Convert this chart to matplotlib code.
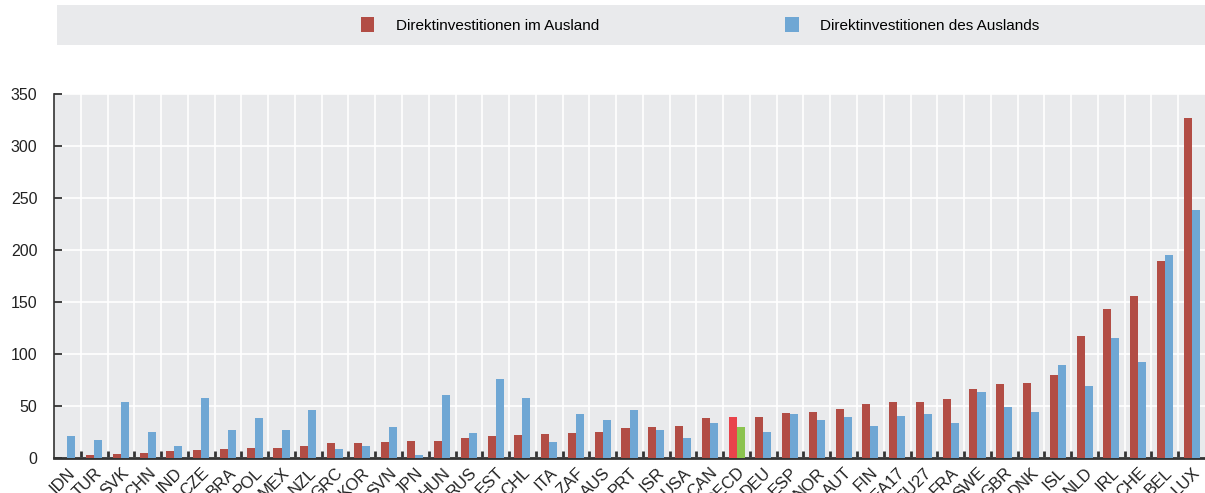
import matplotlib
matplotlib.use('Agg')
import matplotlib.pyplot as plt
from matplotlib.patches import Rectangle, Patch
import numpy as np

# Data
countries = ['IDN', 'TUR', 'SVK', 'CHN', 'IND', 'CZE', 'BRA', 'POL', 'MEX', 'NZL',
             'GRC', 'KOR', 'SVN', 'JPN', 'HUN', 'RUS', 'EST', 'CHL', 'ITA', 'ZAF',
             'AUS', 'PRT', 'ISR', 'USA', 'CAN', 'OECD', 'DEU', 'ESP', 'NOR', 'AUT',
             'FIN', 'EA17', 'EU27', 'FRA', 'SWE', 'GBR', 'DNK', 'ISL', 'NLD', 'IRL',
             'CHE', 'BEL', 'LUX']
outward = [0, 3, 4, 4.5, 7, 8, 9, 10, 10, 12,
           14, 14, 15, 16, 16.5, 19.5, 21.5, 22.5, 23, 24,
           25, 28.5, 29.5, 31, 38.5, 39, 39, 43, 44.5, 47,
           52, 54, 54, 56.5, 66.5, 71.5, 72.5, 80, 117, 143.5,
           155.5, 189, 326.5]
inward = [21.5, 17.5, 53.5, 25, 12, 58, 26.5, 38, 26.5, 46,
          9, 12, 30, 3, 60.5, 24.5, 75.5, 58, 15, 42,
          36.5, 46, 27, 19, 34, 29.5, 25, 42.5, 37, 39,
          31, 40, 42.5, 34, 63, 49.5, 44, 89.5, 69.5, 115.5,
          92, 195, 238.5]
legend_labels = ['Direktinvestitionen im Ausland', 'Direktinvestitionen des Auslands']

red = '#b24d45'
blue = '#6fa7d4'
red_hi = '#e9434b'
green_hi = '#8cc34f'

plt.rcParams['font.family'] = ['Liberation Sans', 'DejaVu Sans']

fig = plt.figure(figsize=(12.05, 4.93), dpi=100)
ax = fig.add_axes([54 / 1205, 35 / 493, 1 - 54 / 1205, 364 / 493])
ax.set_facecolor('#e9eaec')

x = np.arange(len(countries))
w = 0.3
c_out = [red_hi if c == 'OECD' else red for c in countries]
c_in = [green_hi if c == 'OECD' else blue for c in countries]
ax.bar(x - w / 2, outward, w, color=c_out, zorder=3)
ax.bar(x + w / 2, inward, w, color=c_in, zorder=3)

ax.set_xlim(-0.5, len(countries) - 0.5)
ax.set_ylim(0, 350)
ax.set_yticks(np.arange(0, 351, 50))
ax.set_xticks(x)
ax.set_xticklabels(countries, rotation=45, ha='right', rotation_mode='anchor')
ax.set_xticks(np.arange(0.5, len(countries) - 0.5, 1), minor=True)

ax.grid(True, axis='y', color='white', linewidth=1.2, zorder=0)
ax.grid(True, axis='x', which='minor', color='white', linewidth=1.2, zorder=0)
ax.set_axisbelow(True)

ax.tick_params(axis='x', which='major', length=0, labelsize=12, pad=5, colors='#222222')
ax.tick_params(axis='x', which='minor', direction='in', length=5, width=2, color='#333333')
ax.tick_params(axis='y', direction='in', length=6, width=1.2, labelsize=11.5,
               colors='#222222', pad=12)
for s in ['top', 'right']:
    ax.spines[s].set_visible(False)
ax.spines['left'].set_color('#333333')
ax.spines['left'].set_linewidth(1.2)
ax.spines['bottom'].set_color('#333333')
ax.spines['bottom'].set_linewidth(2)

# legend band on top
fig.patches.append(Rectangle((57 / 1205, 1 - 45 / 493), 1 - 57 / 1205, 40 / 493,
                             transform=fig.transFigure, facecolor='#e9eaec',
                             edgecolor='none', zorder=0))
handles = [Patch(facecolor=red), Patch(facecolor=blue)]
fig.legend(handles, legend_labels, loc='center', bbox_to_anchor=(0.581, 1 - 25 / 493),
           ncol=2, frameon=False, fontsize=11, columnspacing=12.2, handlelength=0.9,
           handleheight=1.1, handletextpad=1.4)

fig.savefig('out.png', dpi=100)
